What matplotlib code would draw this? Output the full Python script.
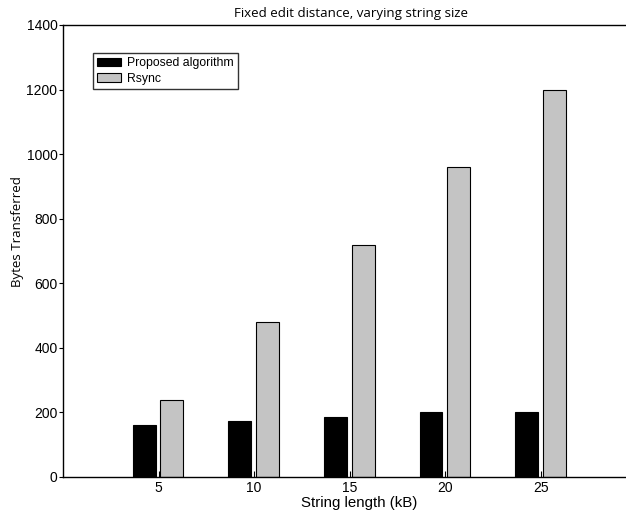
import matplotlib
matplotlib.use("Agg")
import matplotlib.pyplot as plt
import numpy as np

sizes = [5, 10, 15, 20, 25]
proposed = [160, 172, 185, 200, 200]
rsync = [240, 480, 720, 960, 1200]
series_names = ["Proposed algorithm", "Rsync"]

fig = plt.figure(figsize=(6.26, 5.12), dpi=100)
ax = fig.add_axes([63/626, 35/512, 562/626, 452/512])

x = np.array(sizes, dtype=float)
w = 1.2
ax.bar(x - 0.75, proposed, width=w, color="black", edgecolor="black", linewidth=0.8, label=series_names[0])
ax.bar(x + 0.7, rsync, width=w, color="#c4c4c4", edgecolor="black", linewidth=0.8, label=series_names[1])

ax.set_xlim(0, 29.4)
ax.set_ylim(0, 1400)
ax.set_xticks(sizes)
ax.set_yticks(range(0, 1401, 200))
ax.tick_params(axis="x", direction="in", length=4, labelsize=10, pad=3)
ax.tick_params(axis="y", direction="out", length=3, labelsize=10, pad=1)
for lab in ax.get_xticklabels() + ax.get_yticklabels():
    lab.set_fontfamily("Liberation Sans")
ax.spines["right"].set_visible(False)
for s in ["left", "bottom", "top"]:
    ax.spines[s].set_linewidth(1.0)

fig.text(351/626, (512-14)/512, "Fixed edit distance, varying string size", fontsize=9.6,
         family="Open Sans", ha="center", va="center")
ax.set_xlabel("String length (kB)", fontsize=10.8, family="Liberation Sans", labelpad=0)
ax.xaxis.set_label_coords((359-63)/562, (477-503)/452, transform=ax.transAxes)
ax.xaxis.label.set_va("center")
ax.set_ylabel("Bytes Transferred", fontsize=9.5, family="Open Sans")
ax.yaxis.set_label_coords((17.5-63)/562, (477-232)/452, transform=ax.transAxes)
ax.yaxis.label.set_va("center")

leg = ax.legend(loc="upper left", bbox_to_anchor=((93-63)/562, (477-53)/452),
                prop={"family": "Liberation Sans", "size": 8.8},
                frameon=True, fancybox=False, edgecolor="black", borderpad=0.35, labelspacing=0.3,
                handlelength=1.9, handleheight=0.75, handletextpad=0.5, borderaxespad=0)
leg.get_frame().set_linewidth(1.0)

fig.savefig("out.png", dpi=100)
